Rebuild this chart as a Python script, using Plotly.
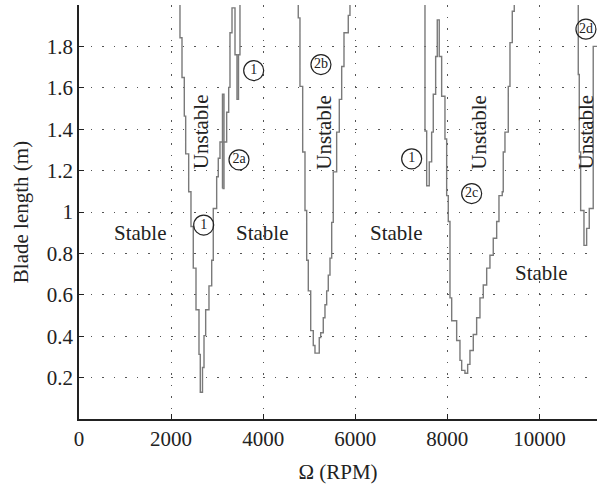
import plotly.graph_objects as go

# ---- data (Omega in RPM, blade length in m) ----
# lobe 1 (first mode, ~2700 RPM) boundary, step corners (vh)
lobe1_rpm = [2193, 2237, 2287, 2317, 2382, 2432, 2482, 2541, 2606, 2634, 2660, 2682,
             2715, 2751, 2823, 2882, 2916, 2990, 3025, 3062, 3207, 3251, 3279, 3323,
             3351, 3388, 3431, 3464, 3496, 3496]
lobe1_len = [2.0, 1.842, 1.650, 1.463, 1.281, 1.098, 0.930, 0.729, 0.528, 0.312, 0.129, 0.129,
             0.249, 0.403, 0.528, 0.643, 0.767, 1.017, 1.170, 1.260, 1.338, 1.482, 1.602, 1.866,
             1.986, 1.986, 1.760, 1.544, 1.760, 2.0]

# thin lobe 2a
lobe2a_rpm = [3116, 3116, 3149, 3149, 3116]
lobe2a_len = [1.113, 1.569, 1.569, 1.113, 1.113]

# lobe 2b (~5200 RPM)
lobe2b_rpm = [4762, 4799, 4858, 4908, 4945, 4980, 5032, 5088, 5125, 5218, 5249, 5305,
              5342, 5379, 5414, 5451, 5488, 5522, 5596, 5653, 5705, 5755, 5848, 5885, 5885]
lobe2b_len = [2.0, 1.938, 1.607, 1.290, 1.007, 0.767, 0.619, 0.427, 0.355, 0.318, 0.393, 0.417,
              0.489, 0.552, 0.619, 0.695, 0.777, 0.950, 1.194, 1.386, 1.544, 1.703, 1.866, 1.950, 2.0]

# first-mode spike near 7600 RPM and lobe 2c (~8400 RPM)
lobe2c_rpm = [7514, 7551, 7607, 7659, 7694, 7746, 7781, 7824, 7876, 7948, 7985, 8020,
              8057, 8094, 8202, 8274, 8311, 8382, 8441, 8491, 8563, 8636, 8708, 8780,
              8854, 8925, 8997, 9071, 9121, 9192, 9214, 9251, 9323, 9360, 9410, 9453, 9453]
lobe2c_len = [2.0, 1.391, 1.127, 1.242, 1.386, 1.569, 1.751, 1.928, 1.751, 1.559, 1.353, 1.079,
              0.954, 0.585, 0.475, 0.379, 0.283, 0.235, 0.221, 0.264, 0.331, 0.408, 0.489, 0.585,
              0.647, 0.729, 0.791, 0.873, 0.954, 1.079, 1.098, 1.290, 1.386, 1.607, 1.818, 1.970, 2.0]

# lobe 2d (~11000 RPM)
lobe2d_rpm = [10843, 10865, 10895, 10967, 10988, 11025, 11082, 11168, 11168, 11300]
lobe2d_len = [2.0, 1.664, 1.290, 1.007, 0.839, 0.839, 0.921, 1.017, 1.544, 1.8]

# region labels
stable_rpm = [1325, 3985, 6899, 10055]
stable_len = [0.897, 0.897, 0.897, 0.705]
unstable_rpm = [2665, 5305, 8671, 10990]
unstable_len = [1.389, 1.384, 1.384, 1.384]
circ_text = ["1", "2a", "1", "2b", "1", "2c", "2d"]
circ_rpm = [3794, 3475, 2708, 5255, 7225, 8528, 11010]
circ_len = [1.683, 1.252, 0.937, 1.712, 1.257, 1.089, 1.883]

xticks = [0, 2000, 4000, 6000, 8000, 10000]
yticks = [0.2, 0.4, 0.6, 0.8, 1.0, 1.2, 1.4, 1.6, 1.8]
ytick_text = ["0.2", "0.4", "0.6", "0.8", "1", "1.2", "1.4", "1.6", "1.8"]

FONT = "Liberation Serif"
FS = 21
TXT = "#222"
LINE = dict(color="#7a7a7a", width=1.4)

fig = go.Figure()
for xs, ys in [(lobe1_rpm, lobe1_len), (lobe2b_rpm, lobe2b_len),
               (lobe2c_rpm, lobe2c_len), (lobe2d_rpm, lobe2d_len)]:
    fig.add_trace(go.Scatter(x=xs, y=ys, mode="lines", line=dict(shape="vh", **LINE),
                             showlegend=False, hoverinfo="skip"))
fig.add_trace(go.Scatter(x=lobe2a_rpm, y=lobe2a_len, mode="lines", line=LINE,
                         showlegend=False, hoverinfo="skip"))

for x, y in zip(stable_rpm, stable_len):
    fig.add_annotation(x=x, y=y, text="Stable", showarrow=False,
                       font=dict(family=FONT, size=FS, color=TXT))
for x, y in zip(unstable_rpm, unstable_len):
    fig.add_annotation(x=x, y=y, text="Unstable", showarrow=False, textangle=-90,
                       font=dict(family=FONT, size=FS, color=TXT))

fig.add_trace(go.Scatter(x=circ_rpm, y=circ_len, mode="markers+text", text=circ_text,
                         textposition="middle center",
                         textfont=dict(family=FONT, size=14, color=TXT),
                         marker=dict(symbol="circle-open", size=20,
                                     line=dict(color=TXT, width=1.2), color=TXT),
                         showlegend=False, hoverinfo="skip", cliponaxis=False))

axis_common = dict(showline=True, linecolor=TXT, linewidth=1.5, mirror=False,
                   ticks="inside", ticklen=5, tickcolor=TXT,
                   showgrid=True, gridcolor="#555", gridwidth=1.2, griddash="1.5px,10px",
                   zeroline=False, tickfont=dict(family=FONT, size=FS, color=TXT))

fig.update_xaxes(range=[0, 11250], tickvals=xticks, ticktext=[str(v) for v in xticks],
                 title=dict(text="Ω (RPM)", font=dict(family=FONT, size=FS, color=TXT),
                            standoff=18),
                 **axis_common)
fig.update_yaxes(range=[0, 2.0], tickvals=yticks, ticktext=ytick_text,
                 title=dict(text="Blade length (m)", font=dict(family=FONT, size=FS, color=TXT),
                            standoff=12),
                 **axis_common)

fig.update_layout(width=597, height=484, margin=dict(l=79, r=0, t=5, b=62),
                  plot_bgcolor="white", paper_bgcolor="white")

fig.write_html("out.html", config={"displayModeBar": False},
               post_script="document.body.style.margin='0px';")
